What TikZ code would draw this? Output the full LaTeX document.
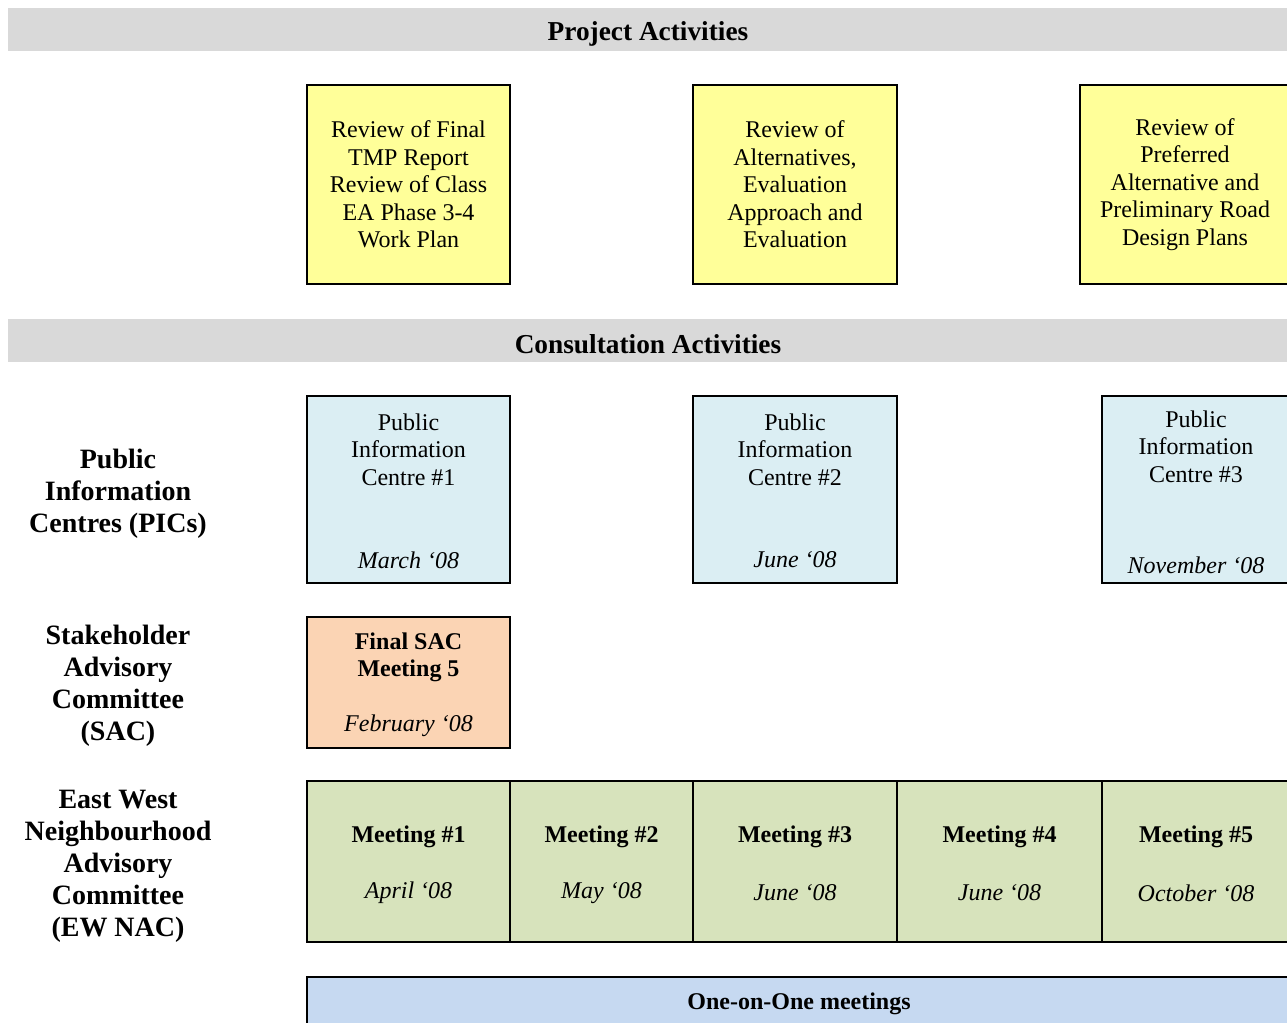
\documentclass[tikz,border=0pt]{standalone}
\usepackage{fontspec}
\setmainfont{Liberation Serif}
\usetikzlibrary{positioning,calc}
\definecolor{bargray}{RGB}{217,217,217}
\definecolor{projyel}{RGB}{255,255,153}
\definecolor{picblue}{RGB}{219,238,243}
\definecolor{sacpeach}{RGB}{251,212,180}
\definecolor{nacgreen}{RGB}{215,227,188}
\definecolor{onebl}{RGB}{198,217,241}
\tikzset{
  sz/.style 2 args={minimum width=#1*0.75pt, minimum height=#2*0.75pt},
  bar/.style={fill=bargray, inner sep=0pt, font=\fontsize{20.5}{23}\selectfont\bfseries},
  bartxt/.style={inner sep=0pt, yshift=-3pt, font=\fontsize{20.5}{23}\selectfont\bfseries},
  cbox/.style={draw=black, line width=1.4pt, inner sep=0pt, align=center,
    font=\fontsize{18}{20.6}\selectfont},
  proj/.style={cbox, fill=projyel},
  pic/.style={cbox, fill=picblue},
  sac/.style={cbox, fill=sacpeach},
  nac/.style={cbox, fill=nacgreen},
  one/.style={cbox, fill=onebl},
  ttl/.style={align=center, inner sep=0pt, yshift=-2pt, font=\fontsize{18}{20.6}\selectfont},
  btl/.style={ttl, font=\fontsize{18}{20.6}\selectfont\bfseries},
  dte/.style={inner sep=0pt, font=\fontsize{18}{20.6}\selectfont\itshape},
  lbl/.style={align=center, inner sep=0pt, yshift=-2.2pt, font=\fontsize{21}{24}\selectfont\bfseries}
}
\begin{document}
\begin{tikzpicture}[x=0.75pt, y=-0.75pt]
  \clip (0,0) rectangle (1287,1023);
  \fill[white] (0,0) rectangle (1287,1023);

  % header bars
  \node[bar, sz={1280}{43}] (hproj) at (648,29.5) {};
  \node[bartxt] (hprojt) at (hproj) {Project Activities};
  \node[bar, sz={1280}{43}] (hcons) at (648,340.5) {};
  \node[bartxt] (hconst) at (hcons) {Consultation Activities};

  % project activities
  \node[proj, sz={203}{199}] (proj1) at (408.5,184.5) {Review of Final\\TMP Report\\Review of Class\\EA Phase 3-4\\Work Plan};
  \node[proj, sz={204}{199}] (proj2) at (795,184.5) {Review of\\Alternatives,\\Evaluation\\Approach and\\Evaluation};
  \node[proj, sz={210}{199}] (proj3) at (1185,184.5) {Review of\\Preferred\\Alternative and\\Preliminary Road\\Design Plans};

  % row labels
  \node[lbl] (lpic) at (118,491) {Public\\Information\\Centres (PICs)};
  \node[lbl] (lsac) at (118,683) {Stakeholder\\Advisory\\Committee\\(SAC)};
  \node[lbl] (lnac) at (118,863) {East West\\Neighbourhood\\Advisory\\Committee\\(EW NAC)};

  % PICs
  \node[pic, sz={203}{187}] (pic1) at (408.5,489.5) {};
  \node[pic, sz={204}{187}] (pic2) at (795,489.5) {};
  \node[pic, sz={188}{187}] (pic3) at (1196,489.5) {};
  \node[ttl] (pic1t) at ($(pic1.north)+(0,52)$) {Public\\Information\\Centre \#1};
  \node[dte] (pic1d) at ($(pic1.south)+(0,-24)$) {March `08};
  \node[ttl] (pic2t) at ($(pic2.north)+(0,52)$) {Public\\Information\\Centre \#2};
  \node[dte] (pic2d) at ($(pic2.south)+(0,-24)$) {June `08};
  \node[ttl] (pic3t) at ($(pic3.north)+(0,49)$) {Public\\Information\\Centre \#3};
  \node[dte] (pic3d) at ($(pic3.south)+(0,-19)$) {November `08};

  % SAC
  \node[sac, sz={203}{131}] (sac1) at (408.5,682.5) {};
  \node[btl] (sac1t) at ($(sac1.north)+(0,38.5)$) {Final SAC\\Meeting 5};
  \node[dte] (sac1d) at ($(sac1.south)+(0,-23)$) {February `08};

  % EW NAC meetings
  \node[nac, sz={203}{161}] (m1) at (408.5,861.5) {};
  \node[nac, sz={183}{161}] (m2) at (601.5,861.5) {};
  \node[nac, sz={204}{161}] (m3) at (795,861.5) {};
  \node[nac, sz={205}{161}] (m4) at (999.5,861.5) {};
  \node[nac, sz={188}{161}] (m5) at (1196,861.5) {};
  \node[btl] (m1t) at ($(m1.north)+(0,54)$) {Meeting \#1};
  \node[dte] (m1d) at ($(m1.south)+(0,-50)$) {April `08};
  \node[btl] (m2t) at ($(m2.north)+(0,54)$) {Meeting \#2};
  \node[dte] (m2d) at ($(m2.south)+(0,-50)$) {May `08};
  \node[btl] (m3t) at ($(m3.north)+(0,54)$) {Meeting \#3};
  \node[dte] (m3d) at ($(m3.south)+(0,-50)$) {June `08};
  \node[btl] (m4t) at ($(m4.north)+(0,54)$) {Meeting \#4};
  \node[dte] (m4d) at ($(m4.south)+(0,-50)$) {June `08};
  \node[btl] (m5t) at ($(m5.north)+(0,54)$) {Meeting \#5};
  \node[dte] (m5d) at ($(m5.south)+(0,-50)$) {October `08};

  % one-on-one
  \node[one, sz={984}{48}] (oneone) at (799,1001) {};
  \node[btl] (oneonet) at (oneone) {One-on-One meetings};
\end{tikzpicture}
\end{document}
